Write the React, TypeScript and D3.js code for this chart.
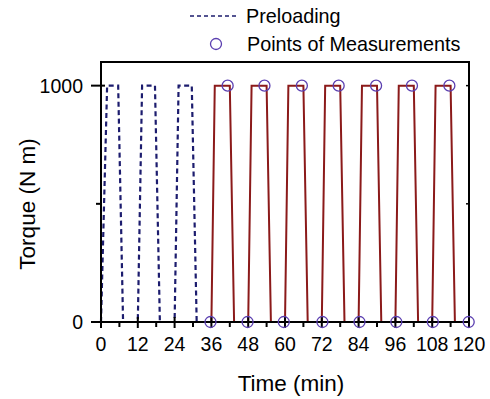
import React from "react";
import * as d3 from "d3";

const preloadT = [0, 2, 5.6, 7.2, 12, 13.4, 17.6, 19.2, 24, 25.3, 29.6, 31.2];
const preloadV = [0, 1000, 1000, 0, 0, 1000, 1000, 0, 0, 1000, 1000, 0];

const cycleStarts = [36, 48, 60, 72, 84, 96, 108];
const rampUp = 1.1;
const holdEnd = 6;
const rampDown = 7.4;

const measTopT = [41.3, 53.3, 65.5, 77.5, 89.7, 101.4, 113.6];
const measTopV = [1000, 1000, 1000, 1000, 1000, 1000, 1000];
const measBotT = [35.7, 47.8, 59.6, 72.2, 84.3, 96.3, 108.2, 119.9];
const measBotV = [0, 0, 0, 0, 0, 0, 0, 0];

const xTicks = [0, 12, 24, 36, 48, 60, 72, 84, 96, 108, 120];
const xMinor = [6, 18, 30, 42, 54, 66, 78, 90, 102, 114];
const yTicks = [0, 1000];
const yMinor = [500];

export default function App() {
  const W = 490, H = 399;
  const L = 101, R = 469, T = 62, B = 322;
  const x = d3.scaleLinear().domain([0, 120]).range([L, R]);
  const y = d3.scaleLinear().domain([0, 1100]).range([B, T]);
  const line = d3.line<[number, number]>().x(d => x(d[0])).y(d => y(d[1]));

  const pre: [number, number][] = preloadT.map((t, i) => [t, preloadV[i]]);
  const main: [number, number][] = [[31.2, 0]];
  cycleStarts.forEach(s => {
    main.push([s, 0], [s + rampUp, 1000], [s + holdEnd, 1000], [s + rampDown, 0]);
  });
  main.push([120, 0]);

  const meas = [
    ...measTopT.map((t, i) => [t, measTopV[i]]),
    ...measBotT.map((t, i) => [t, measBotV[i]]),
  ];

  const font = "Arial, 'Liberation Sans', Helvetica, sans-serif";
  const navy = "#1c1c6e";
  const red = "#8b1a1a";
  const purple = "#5b3fb0";

  return (
    <svg width={W} height={H} style={{ position: "absolute", left: 0, top: 0 }} fontFamily={font}>
      <rect width={W} height={H} fill="#fff" />
      {/* legend */}
      <line x1={190} x2={237} y1={16} y2={16} stroke={navy} strokeWidth={1.6} strokeDasharray="4,3" />
      <text x={246} y={23} fontSize={19.8} fill="#000">Preloading</text>
      <circle cx={216} cy={44} r={5.5} fill="none" stroke={purple} strokeWidth={1.3} />
      <text x={247} y={51} fontSize={19.8} fill="#000">Points of Measurements</text>

      {/* data */}
      <path d={line(pre) || ""} fill="none" stroke={navy} strokeWidth={2.2} strokeDasharray="5,3.5" />
      <path d={line(main) || ""} fill="none" stroke={red} strokeWidth={2} />

      {/* frame */}
      <rect x={L} y={T} width={R - L} height={B - T} fill="none" stroke="#000" strokeWidth={2} />

      {/* x ticks */}
      {xTicks.map(t => (
        <g key={"x" + t}>
          <line x1={x(t)} x2={x(t)} y1={B - 5} y2={B + 6} stroke="#000" strokeWidth={2} />
          <text x={x(t)} y={351} fontSize={19.5} textAnchor="middle">{t}</text>
        </g>
      ))}
      {xMinor.map(t => (
        <line key={"xm" + t} x1={x(t)} x2={x(t)} y1={B} y2={B + 5} stroke="#000" strokeWidth={2} />
      ))}
      {/* y ticks */}
      {yTicks.map(v => (
        <g key={"y" + v}>
          <line x1={L - 10} x2={L + 4} y1={y(v)} y2={y(v)} stroke="#000" strokeWidth={2} />
          <line x1={R - 3} x2={R} y1={y(v)} y2={y(v)} stroke="#000" strokeWidth={1.5} />
          <text x={83} y={y(v) + 7} fontSize={19.5} textAnchor="end">{v}</text>
        </g>
      ))}
      {yMinor.map(v => (
        <g key={"ym" + v}>
          <line x1={L - 5} x2={L} y1={y(v)} y2={y(v)} stroke="#000" strokeWidth={2} />
          <line x1={R - 3} x2={R} y1={y(v)} y2={y(v)} stroke="#000" strokeWidth={1.5} />
        </g>
      ))}

      {/* measurement points */}
      {meas.map((p, i) => (
        <circle key={"m" + i} cx={x(p[0])} cy={y(p[1])} r={5.5} fill="none" stroke={purple} strokeWidth={1.3} />
      ))}

      {/* axis titles */}
      <text x={291} y={391} fontSize={22.5} textAnchor="middle">Time (min)</text>
      <text transform={`translate(35,${(T + B) / 2 + 12}) rotate(-90)`} fontSize={22.5} textAnchor="middle">Torque (N m)</text>
    </svg>
  );
}
